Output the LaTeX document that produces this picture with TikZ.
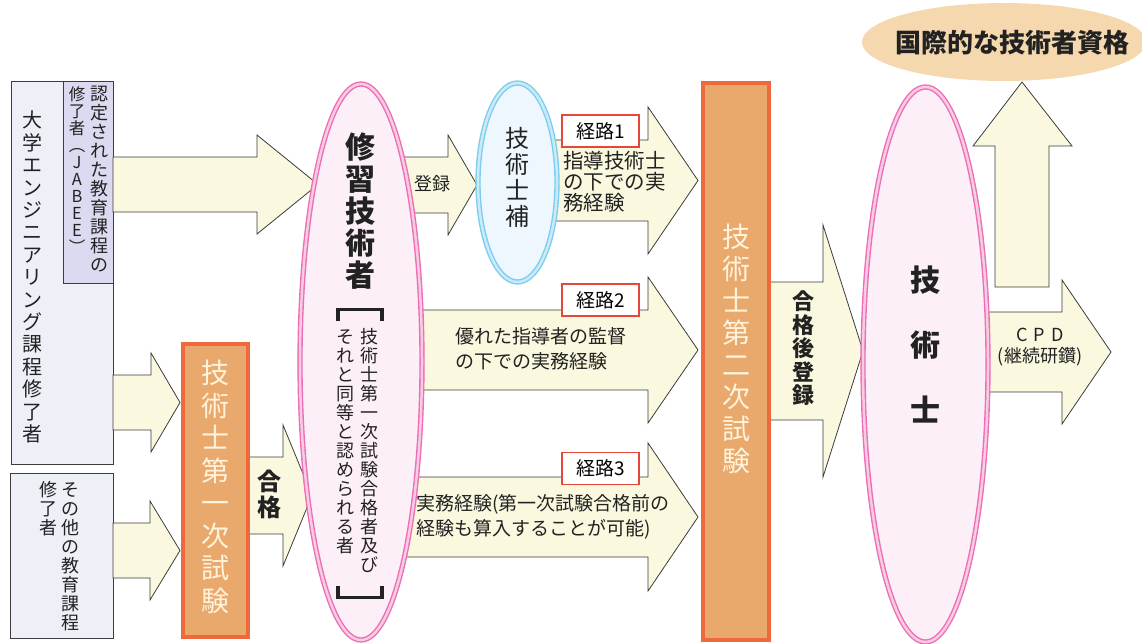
\documentclass[tikz,border=0pt]{standalone}
\usepackage{fontspec}
\setmainfont{Noto Sans CJK JP}
\usetikzlibrary{shapes.geometric}

\definecolor{arrowfill}{HTML}{FAF8DE}
\definecolor{arrowline}{HTML}{3C3C3C}
\definecolor{leftfill}{HTML}{EEF0F8}
\definecolor{jabeefill}{HTML}{DCDAF0}
\definecolor{orangefill}{HTML}{E9A96C}
\definecolor{orangeline}{HTML}{EE6A3C}
\definecolor{orangetext}{HTML}{FFF3DC}
\definecolor{pinkline}{HTML}{EC6FB5}
\definecolor{pinkmid}{HTML}{F8CBE3}
\definecolor{pinkfill}{HTML}{FCEFF7}
\definecolor{blueline}{HTML}{7CCDEE}
\definecolor{bluemid}{HTML}{CBEAF8}
\definecolor{bluefill}{HTML}{EEF7FD}
\definecolor{routeline}{HTML}{E5483A}
\definecolor{tanfill}{HTML}{F5D8AE}
\definecolor{ink}{HTML}{222222}

\tikzset{
  blockarrow/.style={draw=arrowline,line width=.8,fill=arrowfill,line join=miter},
  leftbox/.style={draw=arrowline,line width=.8,fill=leftfill,inner sep=0},
  jabeebox/.style={draw=arrowline,line width=.8,fill=jabeefill,inner sep=0},
  exambox/.style={draw=orangeline,line width=4,fill=orangefill,inner sep=0},
  pinkoval/.style={ellipse,draw=pinkline,line width=1.4,double=pinkmid,double distance=2.5,fill=pinkfill,inner sep=0},
  blueoval/.style={ellipse,draw=blueline,line width=1.4,double=bluemid,double distance=2.5,fill=bluefill,inner sep=0},
  routebox/.style={draw=routeline,line width=1.6,fill=white,inner sep=0,minimum width=77,minimum height=32,font=\fontsize{19}{21}\selectfont},
  txt/.style={inner sep=0,text=ink},
}

% vertical (tategaki) column, one glyph per line
\makeatletter
\newcommand\tate[2][1.1em]{\vtop{\baselineskip=#1\relax\lineskiplimit=-\maxdimen
  \@tfor\tch:=#2\do{\hbox to 1em{\hss\tch\hss}}}}
\makeatother

% block arrow: x start, x head, x tip, y centre, half shaft, head extend
\newcommand\barrow[6]{%
  \draw[blockarrow] ({#1},{#4-#5}) -- ({#2},{#4-#5}) -- ({#2},{#4-#5-#6}) -- ({#3},{#4})
    -- ({#2},{#4+#5+#6}) -- ({#2},{#4+#5}) -- ({#1},{#4+#5}) -- cycle;}

\begin{document}
\begin{tikzpicture}[x=1pt,y=-1pt]
\useasboundingbox (0,0) rectangle (1142,644);
\clip (0,0) rectangle (1142,644);

% left: graduates
\node[leftbox,minimum width=102,minimum height=383] (univ) at (62,272.5) {};
\node[jabeebox,minimum width=50,minimum height=202] (jabee) at (88,182) {};
\node[leftbox,minimum width=103,minimum height=165] (other) at (61.5,555.5) {};

% block arrows
\barrow{113}{257}{318}{184.5}{27.5}{22}
\barrow{113}{151}{180}{402.5}{27.5}{22}
\barrow{113}{150}{180}{550.5}{27.5}{22}
\barrow{240}{283}{312}{495.5}{38.5}{32}
\barrow{395}{448}{477}{185}{28}{22}
\barrow{530}{648}{698}{180.5}{40.5}{33}
\barrow{400}{648}{698}{350}{40}{33}
\barrow{390}{648}{698}{517}{40}{34}
\barrow{760}{823}{863}{351}{69}{57}
\barrow{960}{1062}{1111}{352}{40}{32}
\draw[blockarrow] (995,287) -- (995,146) -- (973,146) -- (1022,82) -- (1072,146)
  -- (1049,146) -- (1049,287) -- cycle;

% exams
\node[exambox,minimum width=65,minimum height=293] (exam1) at (215.5,490.5) {};
\node[exambox,minimum width=66,minimum height=557] (exam2) at (736,361.5) {};

% ovals
\node[pinkoval,minimum width=122,minimum height=556] (trainee) at (361,362) {};
\node[blueoval,minimum width=79,minimum height=199] (assoc) at (517.5,182.5) {};
\node[pinkoval,minimum width=125,minimum height=555] (pe) at (925.5,364.5) {};
\node[ellipse,fill=tanfill,inner sep=0,minimum width=284,minimum height=78] (intl) at (1004,42) {};

% route labels
\node[routebox] (route1) at (600.5,131) {経路1};
\node[routebox] (route2) at (600.5,300) {経路2};
\node[routebox] (route3) at (600.5,468.5) {経路3};

% texts
\node[txt,anchor=north,font=\fontsize{20}{22}\selectfont] (univtxt) at (33,111)
  {\tate[22.4pt]{大学エンジニアリング課程修了者}};
\node[txt,anchor=north,font=\fontsize{18}{19}\selectfont] (jabeetxt) at (88.5,86)
  {\hbox{{\fontsize{16.5}{17}\selectfont\tate[17pt]{修了者︵JABEE︶}}\hspace{5pt}\tate[19pt]{認定された教育課程の}}};
\node[txt,anchor=north,font=\fontsize{18}{19}\selectfont] (othertxt) at (59,481)
  {\hbox{\tate[19pt]{修了者}\hspace{4pt}\tate[19pt]{その他の教育課程}}};
\node[txt,anchor=north,text=orangetext,font=\fontsize{28}{32}\selectfont] (exam1txt) at (215.5,360)
  {\tate[32.5pt]{技術士第一次試験}};
\node[txt,anchor=north,font=\bfseries\fontsize{24}{26}\selectfont] (passtxt) at (269,470)
  {\tate[26pt]{合格}};
\node[txt,anchor=north,font=\bfseries\fontsize{30}{32}\selectfont] (traineetxt) at (360,133)
  {\tate[32pt]{修習技術者}};
\draw[line width=3.5,ink] (338,321) -- (338,309.5) -- (382,309.5) -- (382,321);
\draw[line width=3.5,ink] (338,586) -- (338,597.5) -- (382,597.5) -- (382,586);
\node[txt,anchor=north,font=\fontsize{18}{19}\selectfont] (traineesub) at (357,328)
  {\hbox{\tate[19pt]{それと同等と認められる者}\hspace{6pt}\tate[19pt]{技術士第一次試験合格者及び}}};
\node[txt,font=\fontsize{18}{20}\selectfont] (regtxt) at (432,184) {登録};
\node[txt,anchor=north,font=\fontsize{24}{26}\selectfont] (assoctxt) at (517.5,127)
  {\tate[26pt]{技術士補}};
\node[txt,anchor=north west,align=left,font=\fontsize{20.5}{21}\selectfont] (route1txt) at (563,151)
  {指導技術士\\の下での実\\務経験};
\node[txt,anchor=north west,align=left,font=\fontsize{19}{25}\selectfont] (route2txt) at (455,327)
  {優れた指導者の監督\\の下での実務経験};
\node[txt,anchor=north west,align=left,font=\fontsize{19}{25}\selectfont] (route3txt) at (416,494)
  {実務経験(第一次試験合格前の\\経験も算入することが可能)};
\node[txt,anchor=north,text=orangetext,font=\fontsize{28}{32}\selectfont] (exam2txt) at (736,224)
  {\tate[32pt]{技術士第二次試験}};
\node[txt,anchor=north,font=\bfseries\fontsize{22}{24}\selectfont] (regafter) at (803,291)
  {\tate[23.5pt]{合格後登録}};
\node[txt,anchor=north,font=\bfseries\fontsize{30}{32}\selectfont] (petxt) at (925.5,266)
  {\tate[65pt]{技術士}};
\node[txt,align=center,font=\fontsize{18}{21}\selectfont] (cpdtxt) at (1040,347)
  {C\hspace{6pt}P\hspace{6pt}D\\(継続研鑽)};
\node[txt,font=\bfseries\fontsize{26}{28}\selectfont] (intltxt) at (1012,43) {国際的な技術者資格};
\end{tikzpicture}
\end{document}
